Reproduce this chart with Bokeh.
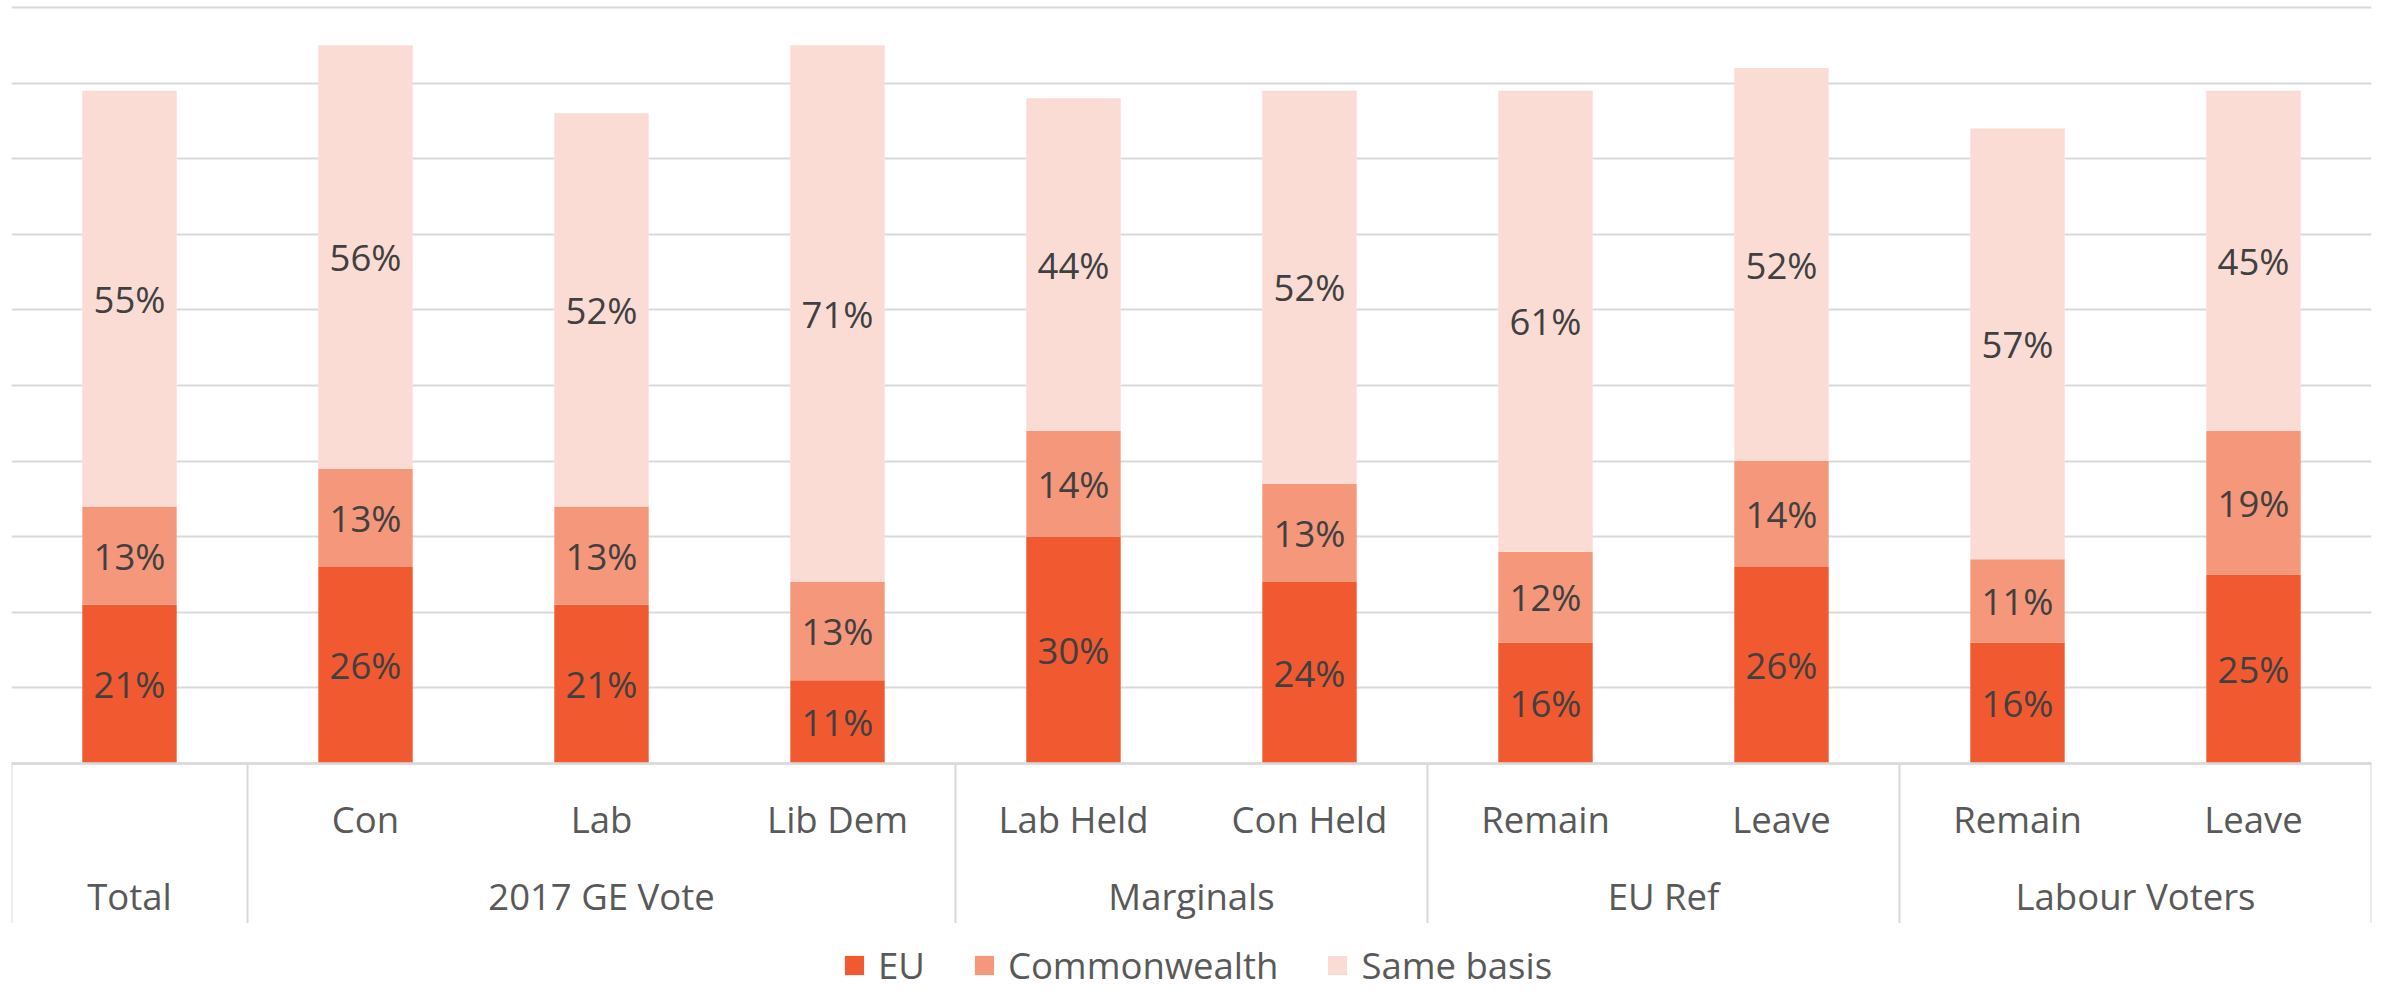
from bokeh.plotting import figure
from bokeh.models import ColumnDataSource, Legend, LegendItem, FixedTicker, Range1d
from bokeh.core.properties import value
from bokeh.embed import file_html
from bokeh.resources import INLINE

# ---- data ----
sub_labels = ["", "Con", "Lab", "Lib Dem", "Lab Held", "Con Held", "Remain", "Leave", "Remain", "Leave"]
groups = ["Total", "2017 GE Vote", "Marginals", "EU Ref", "Labour Voters"]
group_sizes = [1, 3, 2, 2, 2]
series = ["EU", "Commonwealth", "Same basis"]
eu = [21, 26, 21, 11, 30, 24, 16, 26, 16, 25]
commonwealth = [13, 13, 13, 13, 14, 13, 12, 14, 11, 19]
same_basis = [55, 56, 52, 71, 44, 52, 61, 52, 57, 45]
grid_ticks = list(range(0, 101, 10))

colors = ["#F15A30", "#F5977B", "#FBDCD5"]
FONT = "Open Sans"
FS = "36.5px"

n = len(sub_labels)
xs = [i + 0.5 for i in range(n)]

p = figure(width=2381, height=994, output_backend="svg", toolbar_location=None,
           x_range=Range1d(0, n), y_range=Range1d(-30.56, 100.93),
           min_border_left=11, min_border_right=10, min_border_top=0, min_border_bottom=0)
p.outline_line_color = None
p.background_fill_color = "white"
p.border_fill_color = "white"
p.xaxis.visible = False
p.yaxis.visible = False
p.xgrid.grid_line_color = None
p.ygrid.ticker = FixedTicker(ticks=grid_ticks)
p.ygrid.grid_line_color = "#D9D9D9"
p.ygrid.grid_line_width = 2

src = ColumnDataSource(dict(x=xs, eu=eu, cw=commonwealth, sb=same_basis))
renderers = p.vbar_stack(["eu", "cw", "sb"], x="x", width=0.4, fill_color=colors,
                         line_color=None, source=src)

# data labels
lx, ly, lt = [], [], []
for i in range(n):
    base = 0
    for v in (eu[i], commonwealth[i], same_basis[i]):
        lx.append(xs[i]); ly.append(base + v / 2); lt.append(f"{v}%")
        base += v
p.text(x=lx, y=ly, text=lt, text_font=value(FONT), text_font_size=FS,
       text_color="#404040", text_align="center", text_baseline="middle")

# category table lines
bounds = [0]
for s in group_sizes:
    bounds.append(bounds[-1] + s)
p.segment(x0=[0], y0=[0], x1=[n], y1=[0], line_color="#D9D9D9", line_width=2.5)
p.segment(x0=bounds, y0=[0] * len(bounds), x1=bounds, y1=[-21.1] * len(bounds),
          line_color="#D9D9D9", line_width=2)

# category labels
p.text(x=xs, y=[-7.3] * n, text=sub_labels, text_font=value(FONT), text_font_size=FS,
       text_color="#595959", text_align="center", text_baseline="middle")
gx = [(bounds[i] + bounds[i + 1]) / 2 for i in range(len(groups))]
p.text(x=gx, y=[-17.5] * len(groups), text=groups, text_font=value(FONT), text_font_size=FS,
       text_color="#595959", text_align="center", text_baseline="middle")

legend = Legend(items=[LegendItem(label=s, renderers=[r]) for s, r in zip(series, renderers)],
                orientation="horizontal", location=(831, 4), glyph_width=24, glyph_height=24,
                label_text_font=FONT, label_text_font_size=FS, label_text_color="#595959",
                spacing=47, label_standoff=12, padding=0, margin=0,
                border_line_color=None, background_fill_alpha=0)
p.add_layout(legend)

open("out.html", "w").write(file_html(p, INLINE))
